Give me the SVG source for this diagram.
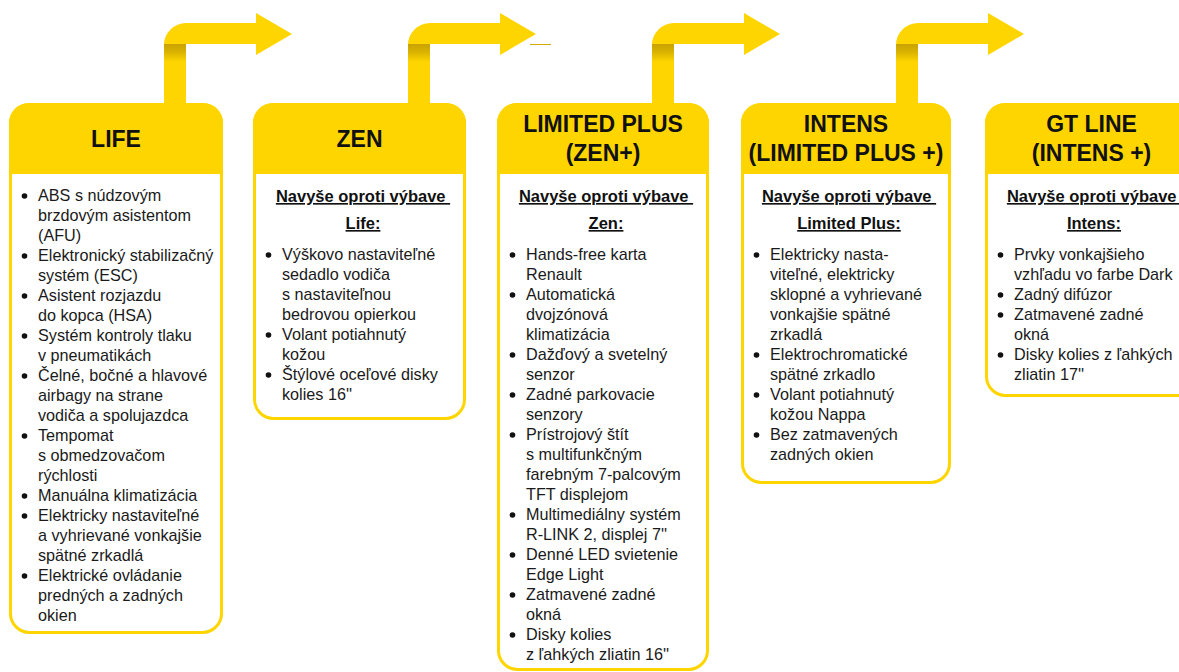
<svg xmlns="http://www.w3.org/2000/svg" width="1179" height="672" viewBox="0 0 1179 672">
<defs>
<linearGradient id="shade" x1="0" y1="0" x2="0" y2="1">
<stop offset="0" stop-color="#C9A200"/>
<stop offset="0.45" stop-color="#D9B300"/>
<stop offset="1" stop-color="#FFD500"/>
</linearGradient>
<style>
.hdr{font-family:"Liberation Sans",Arial,sans-serif;font-weight:bold;font-size:23px;fill:#111;text-anchor:middle}
.sub{font-family:"Liberation Sans",Arial,sans-serif;font-weight:bold;font-size:16.5px;fill:#111;text-anchor:middle;text-decoration:underline}
.it{font-family:"Liberation Sans",Arial,sans-serif;font-size:16.2px;fill:#1a1a1a}
.body{fill:#fff;stroke:#FFD500;stroke-width:3}
.head{fill:#FFD500}
.arr{fill:#FFD500}
.dot{fill:#111}
</style>
</defs>
<rect width="1179" height="672" fill="#fff"/>

<g id="connectors">
<path class="arr" d="M164,104 V45 A22,22 0 0 1 186,23 H256 V13 L292,34 L256,55 V44 H186 V104 Z"/>
<rect x="164" y="44" width="22" height="18" fill="url(#shade)"/>
<path class="arr" d="M408,104 V45 A22,22 0 0 1 430,23 H500 V13 L536,34 L500,55 V44 H430 V104 Z"/>
<rect x="408" y="44" width="22" height="18" fill="url(#shade)"/>
<line x1="530" y1="44.5" x2="551" y2="44.5" stroke="#D4AA00" stroke-width="1"/>
<path class="arr" d="M652,104 V45 A22,22 0 0 1 674,23 H744 V13 L780,34 L744,55 V44 H674 V104 Z"/>
<rect x="652" y="44" width="22" height="18" fill="url(#shade)"/>
<path class="arr" d="M896,104 V45 A22,22 0 0 1 918,23 H988 V13 L1024,34 L988,55 V44 H918 V104 Z"/>
<rect x="896" y="44" width="22" height="18" fill="url(#shade)"/>
</g>

<g id="life">
<rect class="body" x="10.5" y="104.5" width="211" height="528" rx="19"/>
<path class="head" d="M9,123 A20,20 0 0 1 29,103 H203 A20,20 0 0 1 223,123 V174 H9 Z"/>
<text class="hdr" x="116" y="147">LIFE</text>
<g class="dot">
<circle cx="24.5" cy="196" r="2.8"/><circle cx="24.5" cy="256" r="2.8"/><circle cx="24.5" cy="296" r="2.8"/><circle cx="24.5" cy="336" r="2.8"/><circle cx="24.5" cy="376" r="2.8"/><circle cx="24.5" cy="436" r="2.8"/><circle cx="24.5" cy="496" r="2.8"/><circle cx="24.5" cy="516" r="2.8"/><circle cx="24.5" cy="576" r="2.8"/>
</g>
<text class="it">
<tspan x="38" y="201">ABS s núdzovým</tspan>
<tspan x="38" y="221">brzdovým asistentom</tspan>
<tspan x="38" y="241">(AFU)</tspan>
<tspan x="38" y="261">Elektronický stabilizačný</tspan>
<tspan x="38" y="281">systém (ESC)</tspan>
<tspan x="38" y="301">Asistent rozjazdu</tspan>
<tspan x="38" y="321">do kopca (HSA)</tspan>
<tspan x="38" y="341">Systém kontroly tlaku</tspan>
<tspan x="38" y="361">v pneumatikách</tspan>
<tspan x="38" y="381">Čelné, bočné a hlavové</tspan>
<tspan x="38" y="401">airbagy na strane</tspan>
<tspan x="38" y="421">vodiča a spolujazdca</tspan>
<tspan x="38" y="441">Tempomat</tspan>
<tspan x="38" y="461">s obmedzovačom</tspan>
<tspan x="38" y="481">rýchlosti</tspan>
<tspan x="38" y="501">Manuálna klimatizácia</tspan>
<tspan x="38" y="521">Elektricky nastaviteľné</tspan>
<tspan x="38" y="541">a vyhrievané vonkajšie</tspan>
<tspan x="38" y="561">spätné zrkadlá</tspan>
<tspan x="38" y="581">Elektrické ovládanie</tspan>
<tspan x="38" y="601">predných a zadných</tspan>
<tspan x="38" y="621">okien</tspan>
</text>
</g>

<g id="zen">
<rect class="body" x="254.5" y="104.5" width="210" height="314" rx="19"/>
<path class="head" d="M253,123 A20,20 0 0 1 273,103 H446 A20,20 0 0 1 466,123 V174 H253 Z"/>
<text class="hdr" x="359.5" y="147">ZEN</text>
<text class="sub" x="363" y="202" xml:space="preserve">Navyše oproti výbave </text>
<text class="sub" x="363" y="229">Life:</text>
<g class="dot">
<circle cx="268.5" cy="255" r="2.8"/><circle cx="268.5" cy="335" r="2.8"/><circle cx="268.5" cy="375" r="2.8"/>
</g>
<text class="it">
<tspan x="282" y="260">Výškovo nastaviteľné</tspan>
<tspan x="282" y="280">sedadlo vodiča</tspan>
<tspan x="282" y="300">s nastaviteľnou</tspan>
<tspan x="282" y="320">bedrovou opierkou</tspan>
<tspan x="282" y="340">Volant potiahnutý</tspan>
<tspan x="282" y="360">kožou</tspan>
<tspan x="282" y="380">Štýlové oceľové disky</tspan>
<tspan x="282" y="400">kolies 16''</tspan>
</text>
</g>

<g id="limited-plus">
<rect class="body" x="498.5" y="104.5" width="209" height="565" rx="19"/>
<path class="head" d="M497,123 A20,20 0 0 1 517,103 H689 A20,20 0 0 1 709,123 V174 H497 Z"/>
<text class="hdr" x="603" y="132">LIMITED PLUS</text>
<text class="hdr" x="603" y="161">(ZEN+)</text>
<text class="sub" x="606" y="202" xml:space="preserve">Navyše oproti výbave </text>
<text class="sub" x="606" y="229">Zen:</text>
<g class="dot">
<circle cx="512.5" cy="255" r="2.8"/><circle cx="512.5" cy="295" r="2.8"/><circle cx="512.5" cy="355" r="2.8"/><circle cx="512.5" cy="395" r="2.8"/><circle cx="512.5" cy="435" r="2.8"/><circle cx="512.5" cy="515" r="2.8"/><circle cx="512.5" cy="555" r="2.8"/><circle cx="512.5" cy="595" r="2.8"/><circle cx="512.5" cy="635" r="2.8"/>
</g>
<text class="it">
<tspan x="526" y="260">Hands-free karta</tspan>
<tspan x="526" y="280">Renault</tspan>
<tspan x="526" y="300">Automatická</tspan>
<tspan x="526" y="320">dvojzónová</tspan>
<tspan x="526" y="340">klimatizácia</tspan>
<tspan x="526" y="360">Dažďový a svetelný</tspan>
<tspan x="526" y="380">senzor</tspan>
<tspan x="526" y="400">Zadné parkovacie</tspan>
<tspan x="526" y="420">senzory</tspan>
<tspan x="526" y="440">Prístrojový štít</tspan>
<tspan x="526" y="460">s multifunkčným</tspan>
<tspan x="526" y="480">farebným 7-palcovým</tspan>
<tspan x="526" y="500">TFT displejom</tspan>
<tspan x="526" y="520">Multimediálny systém</tspan>
<tspan x="526" y="540">R-LINK 2, displej 7''</tspan>
<tspan x="526" y="560">Denné LED svietenie</tspan>
<tspan x="526" y="580">Edge Light</tspan>
<tspan x="526" y="600">Zatmavené zadné</tspan>
<tspan x="526" y="620">okná</tspan>
<tspan x="526" y="640">Disky kolies</tspan>
<tspan x="526" y="660">z ľahkých zliatin 16''</tspan>
</text>
</g>

<g id="intens">
<rect class="body" x="742.5" y="104.5" width="207" height="378" rx="19"/>
<path class="head" d="M741,123 A20,20 0 0 1 761,103 H931 A20,20 0 0 1 951,123 V174 H741 Z"/>
<text class="hdr" x="846" y="132">INTENS</text>
<text class="hdr" x="846" y="161">(LIMITED PLUS +)</text>
<text class="sub" x="849" y="202" xml:space="preserve">Navyše oproti výbave </text>
<text class="sub" x="849" y="229">Limited Plus:</text>
<g class="dot">
<circle cx="756.5" cy="255" r="2.8"/><circle cx="756.5" cy="355" r="2.8"/><circle cx="756.5" cy="395" r="2.8"/><circle cx="756.5" cy="435" r="2.8"/>
</g>
<text class="it">
<tspan x="770" y="260">Elektricky nasta-</tspan>
<tspan x="770" y="280">viteľné, elektricky</tspan>
<tspan x="770" y="300">sklopné a vyhrievané</tspan>
<tspan x="770" y="320">vonkajšie spätné</tspan>
<tspan x="770" y="340">zrkadlá</tspan>
<tspan x="770" y="360">Elektrochromatické</tspan>
<tspan x="770" y="380">spätné zrkadlo</tspan>
<tspan x="770" y="400">Volant potiahnutý</tspan>
<tspan x="770" y="420">kožou Nappa</tspan>
<tspan x="770" y="440">Bez zatmavených</tspan>
<tspan x="770" y="460">zadných okien</tspan>
</text>
</g>

<g id="gt-line">
<rect class="body" x="986.5" y="104.5" width="210" height="291" rx="19"/>
<path class="head" d="M985,123 A20,20 0 0 1 1005,103 H1178 A20,20 0 0 1 1198,123 V174 H985 Z"/>
<text class="hdr" x="1091.5" y="132">GT LINE</text>
<text class="hdr" x="1091.5" y="161">(INTENS +)</text>
<text class="sub" x="1094" y="202" xml:space="preserve">Navyše oproti výbave </text>
<text class="sub" x="1094" y="229">Intens:</text>
<g class="dot">
<circle cx="1000.5" cy="255" r="2.8"/><circle cx="1000.5" cy="295" r="2.8"/><circle cx="1000.5" cy="315" r="2.8"/><circle cx="1000.5" cy="355" r="2.8"/>
</g>
<text class="it">
<tspan x="1014" y="260">Prvky vonkajšieho</tspan>
<tspan x="1014" y="280">vzhľadu vo farbe Dark</tspan>
<tspan x="1014" y="300">Zadný difúzor</tspan>
<tspan x="1014" y="320">Zatmavené zadné</tspan>
<tspan x="1014" y="340">okná</tspan>
<tspan x="1014" y="360">Disky kolies z ľahkých</tspan>
<tspan x="1014" y="380">zliatin 17''</tspan>
</text>
</g>
</svg>
